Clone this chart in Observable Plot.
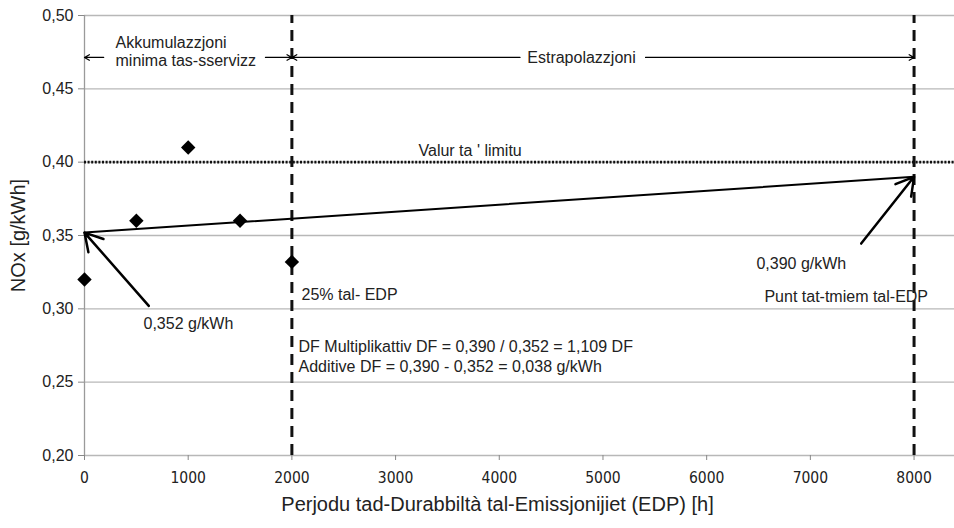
<!DOCTYPE html>
<html>
<head>
<meta charset="utf-8">
<script src="https://cdn.jsdelivr.net/npm/d3@7"></script>
<script src="https://cdn.jsdelivr.net/npm/@observablehq/plot@0.6"></script>
<style>
  body { margin: 0; background: #fff; }
  svg { font-family: "Liberation Sans", Arial, sans-serif; }
  .xnarrow text { font-family: "Liberation Sans Narrow", "DejaVu Sans Condensed", "Liberation Sans", Arial, sans-serif; }
</style>
</head>
<body>
<div id="chart"></div>
<script>
const xTicks = [0, 1000, 2000, 3000, 4000, 5000, 6000, 7000, 8000];
const yTicks = [0.20, 0.25, 0.30, 0.35, 0.40, 0.45, 0.50];
const yTickLabels = ["0,20", "0,25", "0,30", "0,35", "0,40", "0,45", "0,50"];
const hours = [0, 500, 1000, 1500, 2000];
const nox = [0.320, 0.360, 0.410, 0.360, 0.332];
const trendHours = [0, 8000];
const trendNox = [0.352, 0.390];
const limitValue = 0.40;
const boundaries = [2000, 8000];

const points = hours.map((h, i) => ({h, v: nox[i]}));
const trend = trendHours.map((h, i) => ({h, v: trendNox[i]}));

// range arrows (from label toward boundary)
const rangeArrows = [
  {x1: 185, x2: 0, y: 0.4714},
  {x1: 1745, x2: 2000, y: 0.4714},
  {x1: 4200, x2: 2000, y: 0.4714},
  {x1: 5410, x2: 8000, y: 0.4714}
];
// pointer arrows
const pointerArrows = [
  {x1: 620, y1: 0.302, x2: 0, y2: 0.352},
  {x1: 7490, y1: 0.3445, x2: 8000, y2: 0.390}
];
const labels = [
  {x: 299, y: 0.4816, t: "Akkumulazzjoni"},
  {x: 299, y: 0.4693, t: "minima tas-sservizz"},
  {x: 3221, y: 0.408, t: "Valur ta ' limitu"},
  {x: 569, y: 0.290, t: "0,352 g/kWh"},
  {x: 2093, y: 0.3098, t: "25% tal- EDP"},
  {x: 6480, y: 0.3309, t: "0,390 g/kWh"},
  {x: 6557, y: 0.3084, t: "Punt tat-tmiem tal-EDP"},
  {x: 2064, y: 0.2743, t: "DF Multiplikattiv DF = 0,390 / 0,352 = 1,109 DF"},
  {x: 2064, y: 0.2607, t: "Additive DF = 0,390 - 0,352 = 0,038 g/kWh"}
];
const centerLabels = [
  {x: 4793, y: 0.4714, t: "Estrapolazzjoni"}
];

const chart = Plot.plot({
  width: 954,
  height: 528,
  marginLeft: 84,
  marginRight: 0,
  marginTop: 15,
  marginBottom: 73,
  style: {fontFamily: "'Liberation Sans', Arial, sans-serif", background: "#fff"},
  x: {domain: [0, 8390]},
  y: {domain: [0.20, 0.50]},
  marks: [
    Plot.ruleY(yTicks, {stroke: "#b8b8b8", strokeWidth: 1.3}),
    Plot.ruleX([0], {y1: 0.20, y2: 0.50, stroke: "#9a9a9a", strokeWidth: 1.3}),
    Plot.axisX({ticks: xTicks, tickSize: 5, tickPadding: 11, fontSize: 15.5, stroke: "#888", fill: "#222", label: null, className: "xnarrow", tickFormat: d => String(d)}),
    Plot.axisY({ticks: yTicks, tickSize: 6, tickPadding: 5, fontSize: 16, stroke: "#888", fill: "#222", label: null,
      tickFormat: d => yTickLabels[yTicks.findIndex(t => Math.abs(t - d) < 1e-9)]}),
    Plot.ruleY([limitValue], {stroke: "#111", strokeWidth: 2.6, strokeDasharray: "2,1.6"}),
    Plot.ruleX(boundaries, {y1: 0.20, y2: 0.50, stroke: "#111", strokeWidth: 3, strokeDasharray: "11,7"}),
    Plot.line(trend, {x: "h", y: "v", stroke: "#000", strokeWidth: 2}),
    Plot.dot(points, {x: "h", y: "v", symbol: "diamond2", r: 6.5, fill: "#000", stroke: "none"}),
    Plot.arrow(rangeArrows, {x1: "x1", x2: "x2", y1: "y", y2: "y", stroke: "#000", strokeWidth: 1.2, headLength: 7}),
    Plot.arrow(pointerArrows, {x1: "x1", y1: "y1", x2: "x2", y2: "y2", stroke: "#000", strokeWidth: 2.5, headLength: 12}),
    Plot.text(centerLabels, {x: "x", y: "y", text: "t", textAnchor: "middle", fontSize: 16, fill: "#222"}),
    Plot.text(labels, {x: "x", y: "y", text: "t", textAnchor: "start", fontSize: 16, fill: "#222"}),
    Plot.text(["NOx [g/kWh]"], {frameAnchor: "left", textAnchor: "middle", dx: -66, rotate: -90, fontSize: 20, fill: "#222"}),
    Plot.text(["Perjodu tad-Durabbiltà tal-Emissjonijiet (EDP) [h]"], {frameAnchor: "bottom", textAnchor: "middle", dy: 55, dx: -22, fontSize: 20, fill: "#222"})
  ]
});
document.getElementById("chart").appendChild(chart);
</script>
</body>
</html>
